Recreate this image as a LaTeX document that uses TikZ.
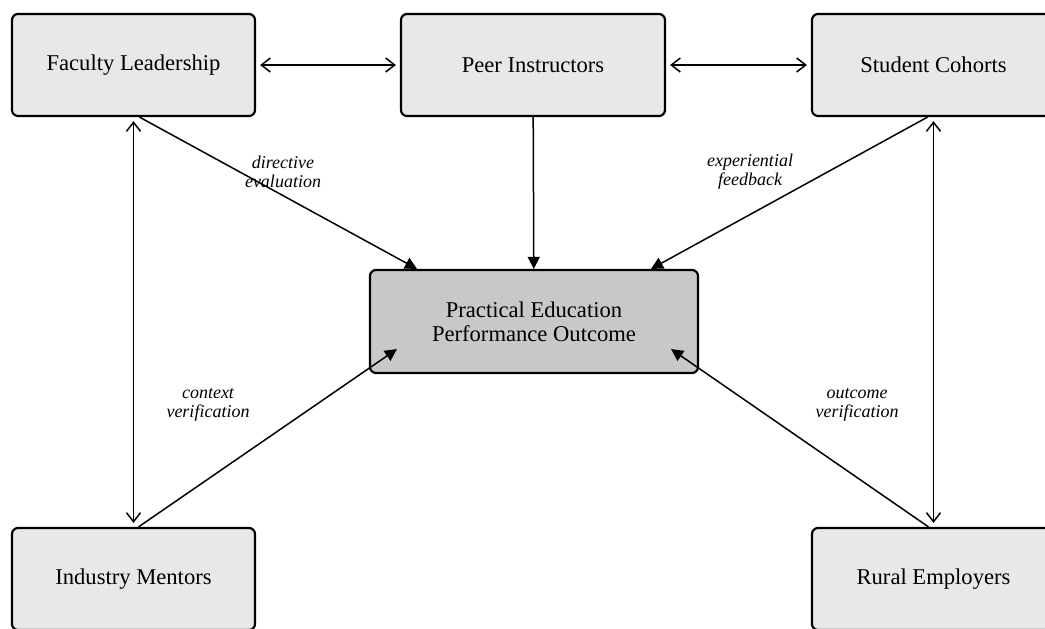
\documentclass[tikz,border=0pt]{standalone}
\usepackage{fontspec}
\setmainfont{Liberation Serif}
\usetikzlibrary{arrows.meta}
\definecolor{boxgray}{HTML}{E8E8E8}
\definecolor{outgray}{HTML}{C8C8C8}
\tikzset{
    actor/.style ={
        rectangle,              % outer actor boxes
        rounded corners = 3pt,  % corner radius
        minimum width   = 121.5pt,
        minimum height  = 51pt,
        inner sep = 3pt,
        line width = 1.1pt,
        draw = black,
        fill = boxgray,
        font = \fontsize{11.3}{13}\selectfont
    },
    outcome/.style ={
        actor,
        minimum width  = 164pt,
        minimum height = 51.5pt,
        fill = outgray,
        align = center,
        font = \fontsize{11.3}{12}\selectfont
    },
    both/.style ={
        {Straight Barb[length=4.5pt,width=7pt]}-{Straight Barb[length=4.5pt,width=7pt]},
        line width = 0.75pt,
        shorten > = 2pt,
        shorten < = 2pt
    },
    feed/.style ={
        -{Triangle[length=6pt,width=6pt]},
        line width = 0.75pt
    },
    tag/.style ={
        align = center,
        font = \fontsize{9}{9.6}\selectfont\itshape
    }
}
\begin{document}
\begin{tikzpicture}[x=0.5pt,y=-0.5pt]
    \clip (0,0) rectangle (1045,628);
    \node[actor] (fac) at(133.5,65) {Faculty Leadership};
    \node[actor, minimum width=132pt] (peer) at(533,65) {Peer Instructors};
    \node[actor] (stu) at(933.5,65) {Student Cohorts};
    \node[actor] (ind) at(133.5,579) {Industry Mentors};
    \node[actor] (rur) at(933.5,579) {Rural Employers};
    \node[outcome] (out) at(534,321.5) {Practical Education\\Performance Outcome};
    \coordinate (inL) at ([shift={(14pt,12.5pt)}]out.south west);
    \coordinate (inR) at ([shift={(-14pt,12.5pt)}]out.south east);
    \draw[both] (fac) -- (peer);
    \draw[both] (peer) -- (stu);
    \draw[both] (fac) -- (ind);
    \draw[both] (stu) -- (rur);
    \draw[feed] ([xshift=3pt]fac.south) -- ([xshift=-58.5pt]out.north);
    \draw[feed] (peer) -- (out);
    \draw[feed] ([xshift=-3pt]stu.south) -- ([xshift=58.5pt]out.north);
    \draw[feed] ([xshift=2.5pt]ind.north) -- (inL);
    \draw[feed] ([xshift=-2.5pt]rur.north) -- (inR);
    \node[tag] (t1) at(283,172) {directive\\evaluation};
    \node[tag] (t2) at(750,172) {experiential\\feedback};
    \node[tag] (t3) at(208,405) {context\\verification};
    \node[tag] (t4) at(857,405) {outcome\\verification};
\end{tikzpicture}
\end{document}
